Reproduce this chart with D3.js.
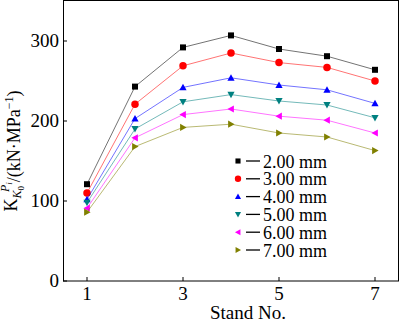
<!DOCTYPE html>
<html>
<head>
<meta charset="utf-8">
<script src="https://cdn.jsdelivr.net/npm/d3@7"></script>
<style>
  body { margin: 0; background: #fff; }
  svg { display: block; font-family: "Liberation Serif", "Times New Roman", serif; }
</style>
</head>
<body>
<svg id="svg" width="400" height="322"></svg>
<script>
"use strict";
var stands = [1, 2, 3, 4, 5, 6, 7];
var seriesNames = ['2.00 mm', '3.00 mm', '4.00 mm', '5.00 mm', '6.00 mm', '7.00 mm'];
var v200 = [121, 243, 292, 307, 290, 281, 264];
var v300 = [110, 221, 269, 285, 273, 267, 250];
var v400 = [102, 203, 242, 254, 245, 239, 222];
var v500 = [98, 190, 224, 233, 225, 220, 204];
var v600 = [91, 179, 208, 215, 206, 201, 185];
var v700 = [86, 168, 192, 196, 185, 180, 163];
var xTicks = [1, 3, 5, 7];
var yTicks = [0, 100, 200, 300];

var colors = ['#000000', '#ff0000', '#0000ff', '#008080', '#ff00ff', '#808000'];
// marker: square, circle, up, down, left, right triangles
var markers = ['square', 'circle', 'up', 'down', 'left', 'right'];
var values = [v200, v300, v400, v500, v600, v700];

var series = seriesNames.map(function (n, i) {
    return { name: n, color: colors[i], marker: markers[i],
        points: stands.map(function (s, j) { return { x: s, y: values[i][j] }; }) };
});

var plotLeft = 63, plotRight = 399, plotTop = 1, plotBottom = 281;
var svg = d3.select('#svg');

var x = d3.scaleLinear().domain([0.5, 7.5]).range([plotLeft, plotRight]);
var y = d3.scaleLinear().domain([0, 350]).range([plotBottom, plotTop]);

// marker path generator, centred on 0,0
var markerPath = function (type) {
    var r = 3.6;
    if (type === 'square') return 'M-3,-3H3V3H-3Z';
    if (type === 'circle') return d3.symbol().type(d3.symbolCircle).size(44)();
    if (type === 'up') return 'M0,' + (-r) + 'L' + r + ',' + (r * 0.8) + 'L' + (-r) + ',' + (r * 0.8) + 'Z';
    if (type === 'down') return 'M0,' + r + 'L' + r + ',' + (-r * 0.8) + 'L' + (-r) + ',' + (-r * 0.8) + 'Z';
    if (type === 'left') return 'M' + (-r) + ',0L' + (r * 0.8) + ',' + (-r) + 'L' + (r * 0.8) + ',' + r + 'Z';
    return 'M' + r + ',0L' + (-r * 0.8) + ',' + (-r) + 'L' + (-r * 0.8) + ',' + r + 'Z';
};

// frame
svg.append('rect')
    .attr('x', plotLeft + 0.5).attr('y', plotTop - 0.5)
    .attr('width', plotRight - plotLeft - 1).attr('height', plotBottom - plotTop + 0.5)
    .attr('fill', 'none').attr('stroke', '#000').attr('stroke-width', 1);

// x axis ticks (inward)
var xAxis = svg.append('g');
xAxis.selectAll('line').data(xTicks).enter().append('line')
    .attr('x1', function (d) { return x(d); }).attr('x2', function (d) { return x(d); })
    .attr('y1', plotBottom).attr('y2', plotBottom - 4)
    .attr('stroke', '#000');
xAxis.selectAll('text').data(xTicks).enter().append('text')
    .attr('x', function (d) { return x(d); }).attr('y', 300)
    .attr('text-anchor', 'middle').attr('font-size', 19)
    .text(function (d) { return d; });

// y axis ticks (inward)
var yAxis = svg.append('g');
yAxis.selectAll('line').data(yTicks).enter().append('line')
    .attr('x1', plotLeft).attr('x2', plotLeft + 4)
    .attr('y1', function (d) { return y(d); }).attr('y2', function (d) { return y(d); })
    .attr('stroke', '#000');
yAxis.selectAll('text').data(yTicks).enter().append('text')
    .attr('x', 59).attr('y', function (d) { return y(d) + 6; })
    .attr('text-anchor', 'end').attr('font-size', 19)
    .text(function (d) { return d; });

// axis titles
svg.append('text')
    .attr('x', 248).attr('y', 319)
    .attr('text-anchor', 'middle').attr('font-size', 19)
    .text('Stand No.');

var yl = svg.append('text')
    .attr('transform', 'translate(17,151) rotate(-90)')
    .attr('text-anchor', 'middle').attr('font-size', 18);
yl.append('tspan').text('K');
yl.append('tspan').attr('font-size', 12).attr('font-style', 'italic').attr('dy', 4).text('K');
yl.append('tspan').attr('font-size', 9).attr('dy', 3).text('0');
yl.append('tspan').attr('font-size', 12).attr('font-style', 'italic').attr('dx', -6).attr('dy', -15).text('P');
yl.append('tspan').attr('font-size', 9).attr('font-style', 'italic').attr('dy', 3).text('i');
yl.append('tspan').attr('dy', 8).text('/(kN\u00b7MPa');
yl.append('tspan').attr('font-size', 12).attr('dy', -7).text('\u22121');
yl.append('tspan').attr('dy', 7).text(')');

// lines
var line = d3.line().x(function (d) { return x(d.x); }).y(function (d) { return y(d.y); });
var g = svg.selectAll('g.series').data(series).enter().append('g').attr('class', 'series');
g.append('path')
    .attr('d', function (d) { return line(d.points); })
    .attr('fill', 'none')
    .attr('stroke', function (d) { return d.color; })
    .attr('stroke-opacity', 0.55)
    .attr('stroke-width', 1);
g.each(function (s) {
    d3.select(this).selectAll('path.m').data(s.points).enter().append('path')
        .attr('class', 'm')
        .attr('d', markerPath(s.marker))
        .attr('fill', s.color)
        .attr('transform', function (d) { return 'translate(' + x(d.x) + ',' + y(d.y) + ')'; });
});

// legend
var legend = svg.append('g');
var rowY = function (i) { return 161 + i * 17.8; };
var items = legend.selectAll('g').data(series).enter().append('g')
    .attr('transform', function (d, i) { return 'translate(0,' + rowY(i) + ')'; });
items.append('path')
    .attr('d', function (d) { return markerPath(d.marker); })
    .attr('fill', function (d) { return d.color; })
    .attr('transform', 'translate(238,0) scale(0.85)');
items.append('line')
    .attr('x1', 246).attr('x2', 260).attr('y1', 0).attr('y2', 0)
    .attr('stroke', '#000').attr('stroke-width', 1.3);
items.append('text')
    .attr('x', 263).attr('y', 6.5).attr('font-size', 18)
    .text(function (d) { return d.name; });
</script>
</body>
</html>
